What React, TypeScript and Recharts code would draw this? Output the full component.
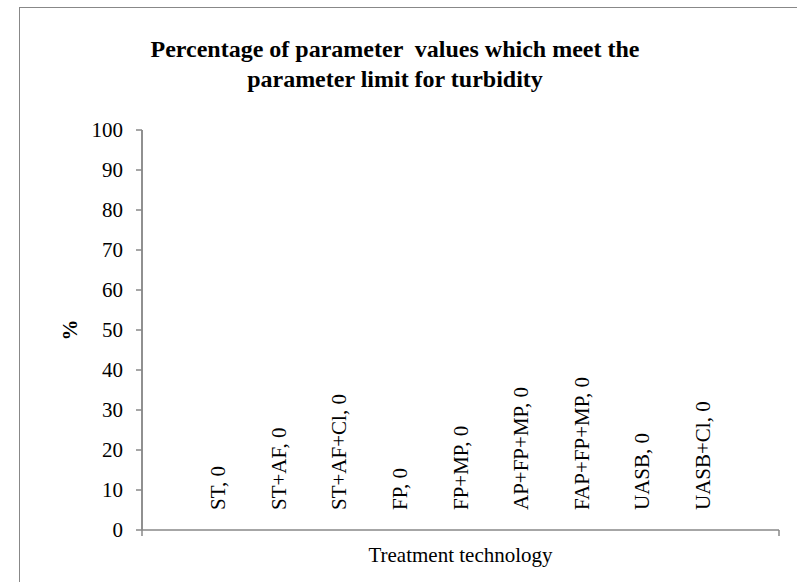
import { Bar, BarChart, XAxis, YAxis } from "recharts";

const technologies = ["ST", "ST+AF", "ST+AF+Cl", "FP", "FP+MP", "AP+FP+MP", "FAP+FP+MP", "UASB", "UASB+Cl"];
const percentMeetingLimit = [0, 0, 0, 0, 0, 0, 0, 0, 0];
const yTicks = [0, 10, 20, 30, 40, 50, 60, 70, 80, 90, 100];

const FONT = "'Times New Roman', 'Liberation Serif', serif";
const AXIS = "#888888";

const W = 797;
const H = 582;
const MARGIN = { top: 130, right: 18, bottom: 0, left: 40 };
const Y_AXIS_W = 102;
const X_AXIS_H = 52;
// plot frame, derived from the chart's own margins
const PLOT_L = MARGIN.left + Y_AXIS_W;
const PLOT_R = W - MARGIN.right;
const PLOT_T = MARGIN.top;
const PLOT_B = H - MARGIN.bottom - X_AXIS_H;

const data = technologies.map((name, i) => ({ name, value: percentMeetingLimit[i] }));

// data labels sit just above the axis, rotated, like Excel's "series name, value"
function TechTick(props: any) {
  const { x, y, payload, index } = props;
  const v = percentMeetingLimit[index] ?? 0;
  return (
    <text
      x={0}
      y={0}
      transform={`translate(${x},${y - 20}) rotate(-90)`}
      textAnchor="start"
      dominantBaseline="central"
      fontSize={21}
      fontFamily={FONT}
      fill="#000"
    >
      {`${payload.value}, ${v}`}
    </text>
  );
}

export default function App() {
  return (
    <div
      style={{
        position: "absolute",
        left: 0,
        top: 0,
        width: W,
        height: H,
        overflow: "hidden",
        background: "#fff",
        fontFamily: FONT,
      }}
    >
      <div
        style={{
          position: "absolute",
          left: 19,
          top: 7,
          width: 900,
          height: 700,
          border: `1px solid ${AXIS}`,
        }}
      />
      <div
        style={{
          position: "absolute",
          left: 0,
          top: 34,
          width: 790,
          textAlign: "center",
          fontSize: 24,
          lineHeight: "30px",
          fontWeight: "bold",
          whiteSpace: "pre",
          color: "#000",
        }}
      >
        {"Percentage of parameter  values which meet the\nparameter limit for turbidity"}
      </div>
      <div
        style={{
          position: "absolute",
          left: 70,
          top: 330,
          transform: "translate(-50%, -50%) rotate(-90deg)",
          fontSize: 21,
          fontWeight: "bold",
          lineHeight: "21px",
          color: "#000",
        }}
      >
        %
      </div>
      <div style={{ position: "absolute", left: 0, top: 0 }}>
        <BarChart width={W} height={H} data={data} margin={MARGIN} barCategoryGap={0}>
          <XAxis
            dataKey="name"
            height={X_AXIS_H}
            interval={0}
            padding={{ left: 46, right: 46 }}
            tick={<TechTick />}
            tickLine={false}
            tickSize={0}
            tickMargin={0}
            stroke={AXIS}
            strokeWidth={1.5}
            label={{
              value: "Treatment technology",
              position: "insideBottom",
              offset: 20,
              fill: "#000",
              fontSize: 21,
              fontFamily: FONT,
            }}
          />
          <YAxis
            width={Y_AXIS_W}
            domain={[0, 100]}
            ticks={yTicks}
            stroke={AXIS}
            strokeWidth={1.5}
            tickMargin={13}
            tick={{ fill: "#000", fontSize: 21, fontFamily: FONT }}
          />
          <Bar dataKey="value" fill="#4f81bd" isAnimationActive={false} />
        </BarChart>
      </div>
      {/* axis frame: value-axis line plus the category axis end ticks */}
      <svg
        width={W}
        height={H}
        style={{ position: "absolute", left: 0, top: 0, pointerEvents: "none" }}
      >
        <line x1={PLOT_L} y1={PLOT_T} x2={PLOT_L} y2={PLOT_B + 6} stroke={AXIS} strokeWidth={1.5} />
        <line x1={PLOT_R} y1={PLOT_B} x2={PLOT_R} y2={PLOT_B + 6} stroke={AXIS} strokeWidth={1.5} />
      </svg>
    </div>
  );
}
